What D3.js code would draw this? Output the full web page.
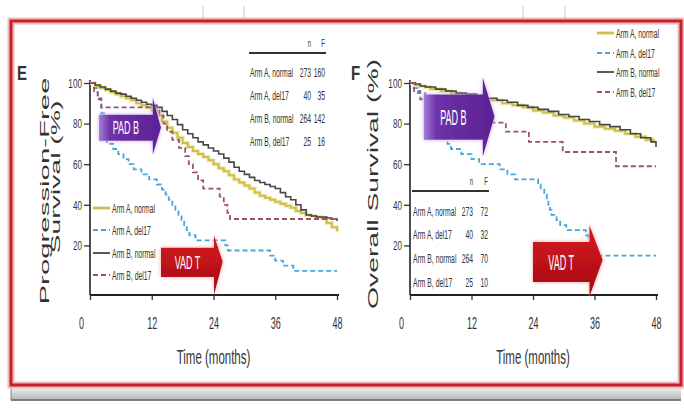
<!DOCTYPE html>
<html>
<head>
<meta charset="utf-8">
<script src="https://cdnjs.cloudflare.com/ajax/libs/d3/7.8.5/d3.min.js"></script>
<style>
html, body { margin:0; padding:0; background:#fff; }
svg { display:block; }
text { font-family:"Liberation Sans", Arial, sans-serif; fill:#333; }
</style>
</head>
<body>
<svg id="chart" width="684" height="419"></svg>
<script>
/******** data ********/
var monthTicks = [0, 12, 24, 36, 48];
var pctTicks = [20, 40, 60, 80, 100];
var armNames = ["Arm A, normal", "Arm A, del17", "Arm B, normal", "Arm B, del17"];
var pfsN = [273, 40, 264, 25];
var pfsF = [160, 35, 142, 16];
var osN = [273, 40, 264, 25];
var osF = [72, 32, 70, 10];

// progression-free survival, [month, %]
var pfsArmANormal = [[0,100],[1,98.5],[2,97.5],[3,96.5],[4,95.5],[5,94.5],[6,93.5],[7,92.5],[8,91.5],[9,90],[10,89],[11,88],[12,86.5],[13,84],[14,81],[15,78],[16,75.5],[17,73],[18,70.5],[19,68.5],[20,66.5],[21,65],[22,63.5],[23,62],[24,60],[25,58],[26,56.5],[27,54.5],[28,52.5],[29,51],[30,49.5],[31,48],[32,46],[33,44.5],[34,43.5],[35,42.5],[36,41.5],[37,40.5],[38,39.5],[39,38.5],[40,37],[41,36],[42,35],[43,34.5],[44,34],[45,33.5],[46,31],[47,29],[48,27]];
var pfsArmADel17 = [[0,100],[0.8,97.5],[1.5,92.5],[2.2,85],[2.8,77.5],[3.3,70],[4.5,67.5],[5.5,65],[6.5,62.5],[7.5,60],[8.5,57.5],[10,55],[11.5,52.5],[13,50],[14,47.5],[14.7,45],[15.3,42.5],[16,40],[16.6,37.5],[17.2,35],[17.8,32.5],[18.3,30],[18.8,27.5],[19.3,25],[20.5,22.5],[26.3,20],[26.8,17.5],[35,15],[36,12.5],[37.5,10],[39.5,7.5],[48,7.5]];
var pfsArmBNormal = [[0,100],[1,99],[2,98],[3,97],[4,96],[5,95],[6,94.5],[7,93.5],[8,92.5],[9,91.5],[10,90.5],[11,89.5],[12,89],[13,88],[14,86],[15,84],[16,82],[17,79.5],[18,77],[19,75],[20,73],[21,71],[22,69.5],[23,68],[24,66.5],[25,65],[26,63],[27,61],[28,58.5],[29,56.5],[30,55],[31,53.5],[32,52],[33,51],[34,50],[35,49],[36,48],[37,46],[38,44],[39,42.5],[40,40],[41,37.5],[42,35],[43,34.5],[44,34],[46,33.5],[47,33],[48,32]];
var pfsArmBDel17 = [[0,100],[0.8,96],[1.5,92],[2.2,88],[13.5,84],[14.3,80],[15,76],[16,72],[17.3,68],[18.5,64],[19.2,60],[20,56],[21,52],[22,48],[25.2,44],[26,40],[26.7,36],[27.2,33],[48,33]];

// overall survival, [month, %]
var osArmANormal = [[0,100],[1,99],[2,98.5],[3,98],[4,97],[6,96],[8,95],[10,94],[12,93],[14,92],[16,91.5],[18,90],[20,89],[22,88],[24,86.5],[26,85.5],[28,84],[30,83],[32,81.5],[34,80],[36,78.5],[38,77.5],[40,76.5],[42,75],[44,73.5],[46,72],[47.5,70.5]];
var osArmADel17 = [[0,100],[0.7,97.5],[1.5,95],[3,92.5],[4.5,87.5],[5.5,80],[6.5,72.5],[7.3,70],[8,67.5],[10,65],[12,62.5],[13.5,60],[17.5,57.5],[19,55],[20.5,52.5],[25,50],[25.5,47.5],[26.2,45],[26.7,42.5],[27,40],[27.3,37.5],[27.6,35],[28.6,32.5],[29.3,30],[30.5,27.5],[34.3,25],[34.8,22.5],[35.3,20],[35.8,17.5],[36.5,15],[48,15]];
var osArmBNormal = [[0,100],[1,99.5],[2,98.5],[3,98],[5,97],[7,96],[9,95],[11,94.5],[13,93.5],[15,92.5],[17,91.5],[19,90.5],[21,89],[23,88],[25,87],[27,86],[29,84.5],[31,83.5],[33,82],[35,81],[37,79.5],[39,78.5],[41,77],[43,75],[45,73],[47,71],[48,68.5]];
var osArmBDel17 = [[0,100],[0.8,96],[2,92],[7,88],[12,84],[15.5,80.5],[18.7,76],[23.2,71],[29.8,66],[40.2,59],[48,59]];

// treatment arrows (months / %)
var pfsArrows = [
	{label:"PAD B", kind:"pad", x0:1.75, xh:12.2, tip:13.8, top:84.4, bottom:71.6, headTop:92.8, headBottom:64.7, tipY:78},
	{label:"VAD T", kind:"vad", x0:13.8, xh:24.1, tip:25.8, top:18.8, bottom:4.4, headTop:25, headBottom:-4.4, tipY:12}
];
var osArrows = [
	{label:"PAD B", kind:"pad", x0:2.7, xh:14.2, tip:16.5, top:94.3, bottom:72.1, headTop:102.7, headBottom:63.7, tipY:83.5},
	{label:"VAD T", kind:"vad", x0:24, xh:35, tip:37.6, top:21.7, bottom:2, headTop:30.1, headBottom:-5.4, tipY:12.8}
];

/******** style ********/
var armColors = ["#cdbf4c", "#4aa6d8", "#474747", "#9c5174"];
var armDash = [null, "5,3", null, "5,3"];
var armWidth = [2, 1.8, 1.6, 1.8];

var svg = d3.select("#chart");

// tall narrow lettering like the figure: small font stretched vertically
function tallText(g, x, y, str, size, stretch, anchor){
	return g.append("text")
		.attr("transform", "translate(" + x + "," + y + ") scale(1," + stretch + ")")
		.attr("text-anchor", anchor || "start")
		.style("font-size", size + "px")
		.text(str);
}

var defs = svg.append("defs");
var padGrad = defs.append("linearGradient").attr("id", "padGrad");
padGrad.append("stop").attr("offset", "0%").attr("stop-color", "#a57fd6");
padGrad.append("stop").attr("offset", "18%").attr("stop-color", "#6d31a8");
padGrad.append("stop").attr("offset", "100%").attr("stop-color", "#5c2294");
var vadGrad = defs.append("linearGradient").attr("id", "vadGrad").attr("x1", 0).attr("x2", 0).attr("y1", 0).attr("y2", 1);
vadGrad.append("stop").attr("offset", "0%").attr("stop-color", "#d51820");
vadGrad.append("stop").attr("offset", "100%").attr("stop-color", "#a60c12");
defs.append("filter").attr("id", "padGlow").attr("x", "-20%").attr("y", "-20%").attr("width", "140%").attr("height", "140%")
	.append("feDropShadow").attr("dx", 0).attr("dy", 0).attr("stdDeviation", 2).attr("flood-color", "#c9a9f0");
defs.append("filter").attr("id", "vadGlow").attr("x", "-20%").attr("y", "-20%").attr("width", "140%").attr("height", "140%")
	.append("feDropShadow").attr("dx", 0).attr("dy", 0).attr("stdDeviation", 2).attr("flood-color", "#f3a3a6");
var bandGrad = defs.append("linearGradient").attr("id", "bandGrad").attr("x1", 0).attr("x2", 0).attr("y1", 0).attr("y2", 1);
bandGrad.append("stop").attr("offset", "0%").attr("stop-color", "#f2f2f2");
bandGrad.append("stop").attr("offset", "100%").attr("stop-color", "#b9b9b9");

/******** frame ********/
var frame = svg.append("g").attr("class", "frame");
[203, 244, 523, 565].forEach(function(fx){
	frame.append("line").attr("x1", fx).attr("x2", fx).attr("y1", 6).attr("y2", 19).attr("stroke", "#c8c8c8").attr("stroke-width", 1);
});
frame.append("rect").attr("x", 11).attr("y", 387).attr("width", 670).attr("height", 12).attr("fill", "url(#bandGrad)");
frame.append("line").attr("x1", 11).attr("x2", 681).attr("y1", 400).attr("y2", 400).attr("stroke", "#555").attr("stroke-width", 1.5);
frame.append("line").attr("x1", 11).attr("x2", 11).attr("y1", 21).attr("y2", 400).attr("stroke", "#888").attr("stroke-width", 1);
frame.append("rect").attr("x", 11).attr("y", 21).attr("width", 670).attr("height", 364)
	.attr("fill", "none").attr("stroke", "#f2b8ba").attr("stroke-width", 7);
frame.append("rect").attr("x", 11).attr("y", 21).attr("width", 670).attr("height", 364)
	.attr("fill", "none").attr("stroke", "#c3222a").attr("stroke-width", 3);

/******** panels ********/
function drawPanel(opt){
	var g = svg.append("g").attr("class", "panel");
	var x = d3.scaleLinear().domain([0, 48]).range([opt.x0, opt.x1]);
	var y = d3.scaleLinear().domain([0, 100]).range([286, 83]);
	var axisY = 295;

	// axes
	var yAxis = g.append("g").attr("transform", "translate(" + x(0) + ",0)")
		.call(d3.axisLeft(y).tickValues(pctTicks).tickSize(6));
	yAxis.select(".domain").remove();
	yAxis.selectAll("line").attr("stroke", "#333").attr("stroke-width", 1.3);
	yAxis.selectAll("text").attr("x", 0).attr("y", 0).attr("dy", 0)
		.attr("transform", "translate(-8,4.3) scale(1,1.46)")
		.style("font-size", "8.2px").attr("fill", "#222");

	var xAxis = g.append("g").attr("transform", "translate(0," + axisY + ")")
		.call(d3.axisBottom(x).tickValues(monthTicks).tickSize(5));
	xAxis.select(".domain").remove();
	xAxis.selectAll("line").attr("stroke", "#333").attr("stroke-width", 1.3);
	xAxis.selectAll("text").attr("x", 0).attr("y", 0).attr("dy", 0)
		.attr("transform", function(d){ return "translate(" + (d == 0 ? -9 : 0) + ",34) scale(1,1.9)"; })
		.style("font-size", "9px").attr("fill", "#222");

	g.append("line").attr("x1", x(0)).attr("x2", x(0)).attr("y1", y(100) - 3).attr("y2", axisY)
		.attr("stroke", "#222").attr("stroke-width", 1.6);
	g.append("line").attr("x1", x(0)).attr("x2", x(48) + 2).attr("y1", axisY).attr("y2", axisY)
		.attr("stroke", "#222").attr("stroke-width", 2.2);

	tallText(g, (x(0) + x(48)) / 2, 364, "Time (months)", 11.5, 1.74, "middle").attr("fill", "#333");

	// curves
	var line = d3.line().x(function(d){ return x(d[0]); }).y(function(d){ return y(d[1]); }).curve(d3.curveStepAfter);
	var curveG = g.append("g").attr("class", "curves");
	opt.curves.forEach(function(c, i){
		if(i == 0){
			curveG.append("path").attr("d", line(c)).attr("fill", "none")
				.attr("stroke", "#eee6a8").attr("stroke-width", 4).attr("stroke-opacity", 0.8);
		}
		curveG.append("path").attr("d", line(c)).attr("fill", "none")
			.attr("stroke", armColors[i]).attr("stroke-width", armWidth[i])
			.attr("stroke-dasharray", armDash[i]);
	});

	// arrows
	opt.arrows.forEach(function(a){
		var p = d3.path();
		p.moveTo(x(a.x0), y(a.top));
		p.lineTo(x(a.xh), y(a.top));
		p.lineTo(x(a.xh), y(a.headTop));
		p.lineTo(x(a.tip), y(a.tipY));
		p.lineTo(x(a.xh), y(a.headBottom));
		p.lineTo(x(a.xh), y(a.bottom));
		p.lineTo(x(a.x0), y(a.bottom));
		p.closePath();
		g.append("path").attr("d", p.toString())
			.attr("fill", a.kind == "pad" ? "url(#padGrad)" : "url(#vadGrad)")
			.attr("filter", a.kind == "pad" ? "url(#padGlow)" : "url(#vadGlow)");
		var big = (y(a.bottom) - y(a.top)) > 35;
		var st = big ? 2.4 : 2.1;
		tallText(g, (x(a.x0) + x(a.xh)) / 2, (y(a.top) + y(a.bottom)) / 2 + 0.716 * 9 * st / 2,
			a.label, 9, st, "middle").style("fill", "#fff");
	});

	// panel letter
	tallText(g, opt.letterX, 80, opt.letter, 15, 1.4).style("font-weight", "bold").attr("fill", "#111");

	return {g:g, x:x, y:y};
}

function drawLegend(g, lx, ys){
	armNames.forEach(function(name, i){
		g.append("line").attr("x1", lx).attr("x2", lx + 17).attr("y1", ys[i]).attr("y2", ys[i])
			.attr("stroke", armColors[i]).attr("stroke-width", i == 0 ? 2.8 : 1.8).attr("stroke-dasharray", armDash[i]);
		tallText(g, lx + 19, ys[i] + 4.5, name, 6.8, 1.9).attr("fill", "#2a2a2a");
	});
}

function drawTable(g, tx, nx, fx, headY, rowYs, ns, fs){
	tallText(g, nx, headY, "n", 6, 1.7, "end").attr("fill", "#444");
	tallText(g, fx, headY, "F", 6, 1.7, "end").attr("fill", "#444");
	g.append("line").attr("x1", tx - 1).attr("x2", fx + 1).attr("y1", headY + 6).attr("y2", headY + 6)
		.attr("stroke", "#333").attr("stroke-width", 2);
	armNames.forEach(function(name, i){
		tallText(g, tx, rowYs[i], name, 6.8, 1.9).attr("fill", "#2a2a2a");
		tallText(g, nx, rowYs[i], ns[i], 6.8, 1.9, "end").attr("fill", "#2a2a2a");
		tallText(g, fx, rowYs[i], fs[i], 6.8, 1.9, "end").attr("fill", "#2a2a2a");
	});
}

// E: progression-free survival
var pfs = drawPanel({x0:90, x1:337, letter:"E", letterX:17,
	curves:[pfsArmANormal, pfsArmADel17, pfsArmBNormal, pfsArmBDel17], arrows:pfsArrows});
drawLegend(pfs.g, 93, [208, 230, 253, 275]);
drawTable(pfs.g, 250, 311, 325, 47, [77, 100, 123, 146], pfsN, pfsF);
pfs.g.append("text").attr("transform", "translate(49,191) rotate(-90)").attr("text-anchor", "middle")
	.style("font-size", "13px").attr("fill", "#555").attr("textLength", 227).attr("lengthAdjust", "spacingAndGlyphs")
	.text("Progression-Free");
pfs.g.append("text").attr("transform", "translate(60,177) rotate(-90)").attr("text-anchor", "middle")
	.style("font-size", "13px").attr("fill", "#555").attr("textLength", 153).attr("lengthAdjust", "spacingAndGlyphs")
	.text("Survival (%)");

// F: overall survival
var os = drawPanel({x0:410, x1:656, letter:"F", letterX:351,
	curves:[osArmANormal, osArmADel17, osArmBNormal, osArmBDel17], arrows:osArrows});
drawLegend(os.g, 597, [33, 53, 72, 92]);
drawTable(os.g, 413, 473, 488, 185, [216, 239, 263, 287], osN, osF);
os.g.append("text").attr("transform", "translate(378,184) rotate(-90)").attr("text-anchor", "middle")
	.style("font-size", "14px").attr("fill", "#555").attr("textLength", 250).attr("lengthAdjust", "spacingAndGlyphs")
	.text("Overall Survival (%)");
</script>
</body>
</html>
